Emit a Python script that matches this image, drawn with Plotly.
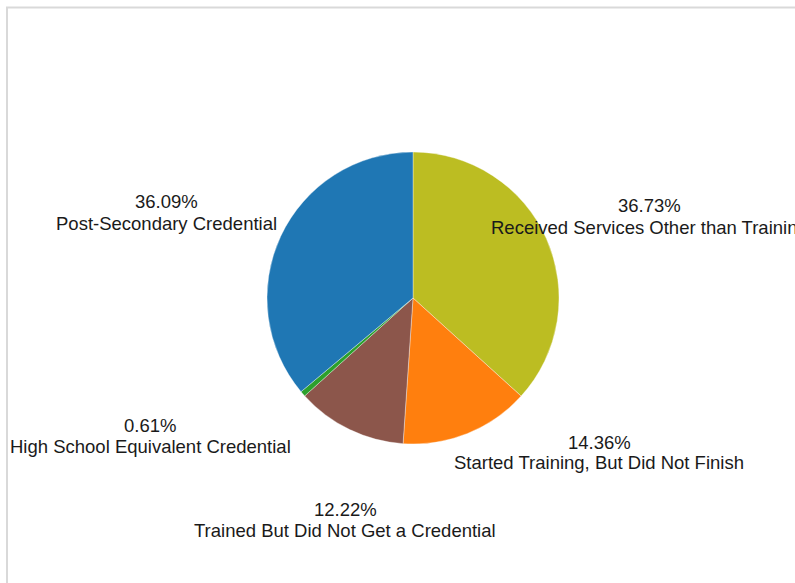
import plotly.graph_objects as go

# Data
labels = [
    "Received Services Other than Training",
    "Started Training, But Did Not Finish",
    "Trained But Did Not Get a Credential",
    "High School Equivalent Credential",
    "Post-Secondary Credential",
]
values = [36.73, 14.36, 12.22, 0.61, 36.09]
colors = ["#bcbd22", "#ff7f0e", "#8c564b", "#2ca02c", "#1f77b4"]

# Label placement (pixel centers: x, percent line y, name line y)
label_px_x = [649, 599, 345, 150, 166]
pct_px_y = [206, 442, 509, 425, 201]
name_px_y = [227.5, 462.5, 530, 446, 223]

W, H = 795, 583
cx, cy, r = 413, 298, 146

fig = go.Figure()
fig.add_trace(go.Pie(
    labels=labels,
    values=values,
    sort=False,
    direction="clockwise",
    rotation=0,
    textinfo="none",
    marker=dict(colors=colors, line=dict(color="rgba(255,255,255,0.6)", width=0.6)),
    domain=dict(x=[(cx - r) / W, (cx + r) / W], y=[1 - (cy + r) / H, 1 - (cy - r) / H]),
    showlegend=False,
    hoverinfo="label+percent",
))

font = dict(family="Liberation Sans, Arial, sans-serif", size=18.5, color="#1a1a1a")
for lab, val, px, py1, py2 in zip(labels, values, label_px_x, pct_px_y, name_px_y):
    fig.add_annotation(
        x=px / W, y=1 - py1 / H, xref="paper", yref="paper",
        text=f"{val:.2f}%", showarrow=False, xanchor="center", yanchor="middle",
        font=font,
    )
    fig.add_annotation(
        x=px / W, y=1 - py2 / H, xref="paper", yref="paper",
        text=lab, showarrow=False, xanchor="center", yanchor="middle",
        font=font,
    )

# light frame (top and left edges visible)
fig.add_shape(type="rect", xref="paper", yref="paper",
              x0=7 / W, x1=1.2, y0=-0.2, y1=1 - 7.5 / H,
              line=dict(color="#d9d9d9", width=2), fillcolor="rgba(0,0,0,0)")

fig.update_layout(
    width=W, height=H,
    margin=dict(l=0, r=0, t=0, b=0),
    paper_bgcolor="white", plot_bgcolor="white",
)

fig.write_html(
    "out.html",
    config={"displayModeBar": False},
    post_script="document.body.style.margin='0';document.body.style.overflow='hidden';",
)
